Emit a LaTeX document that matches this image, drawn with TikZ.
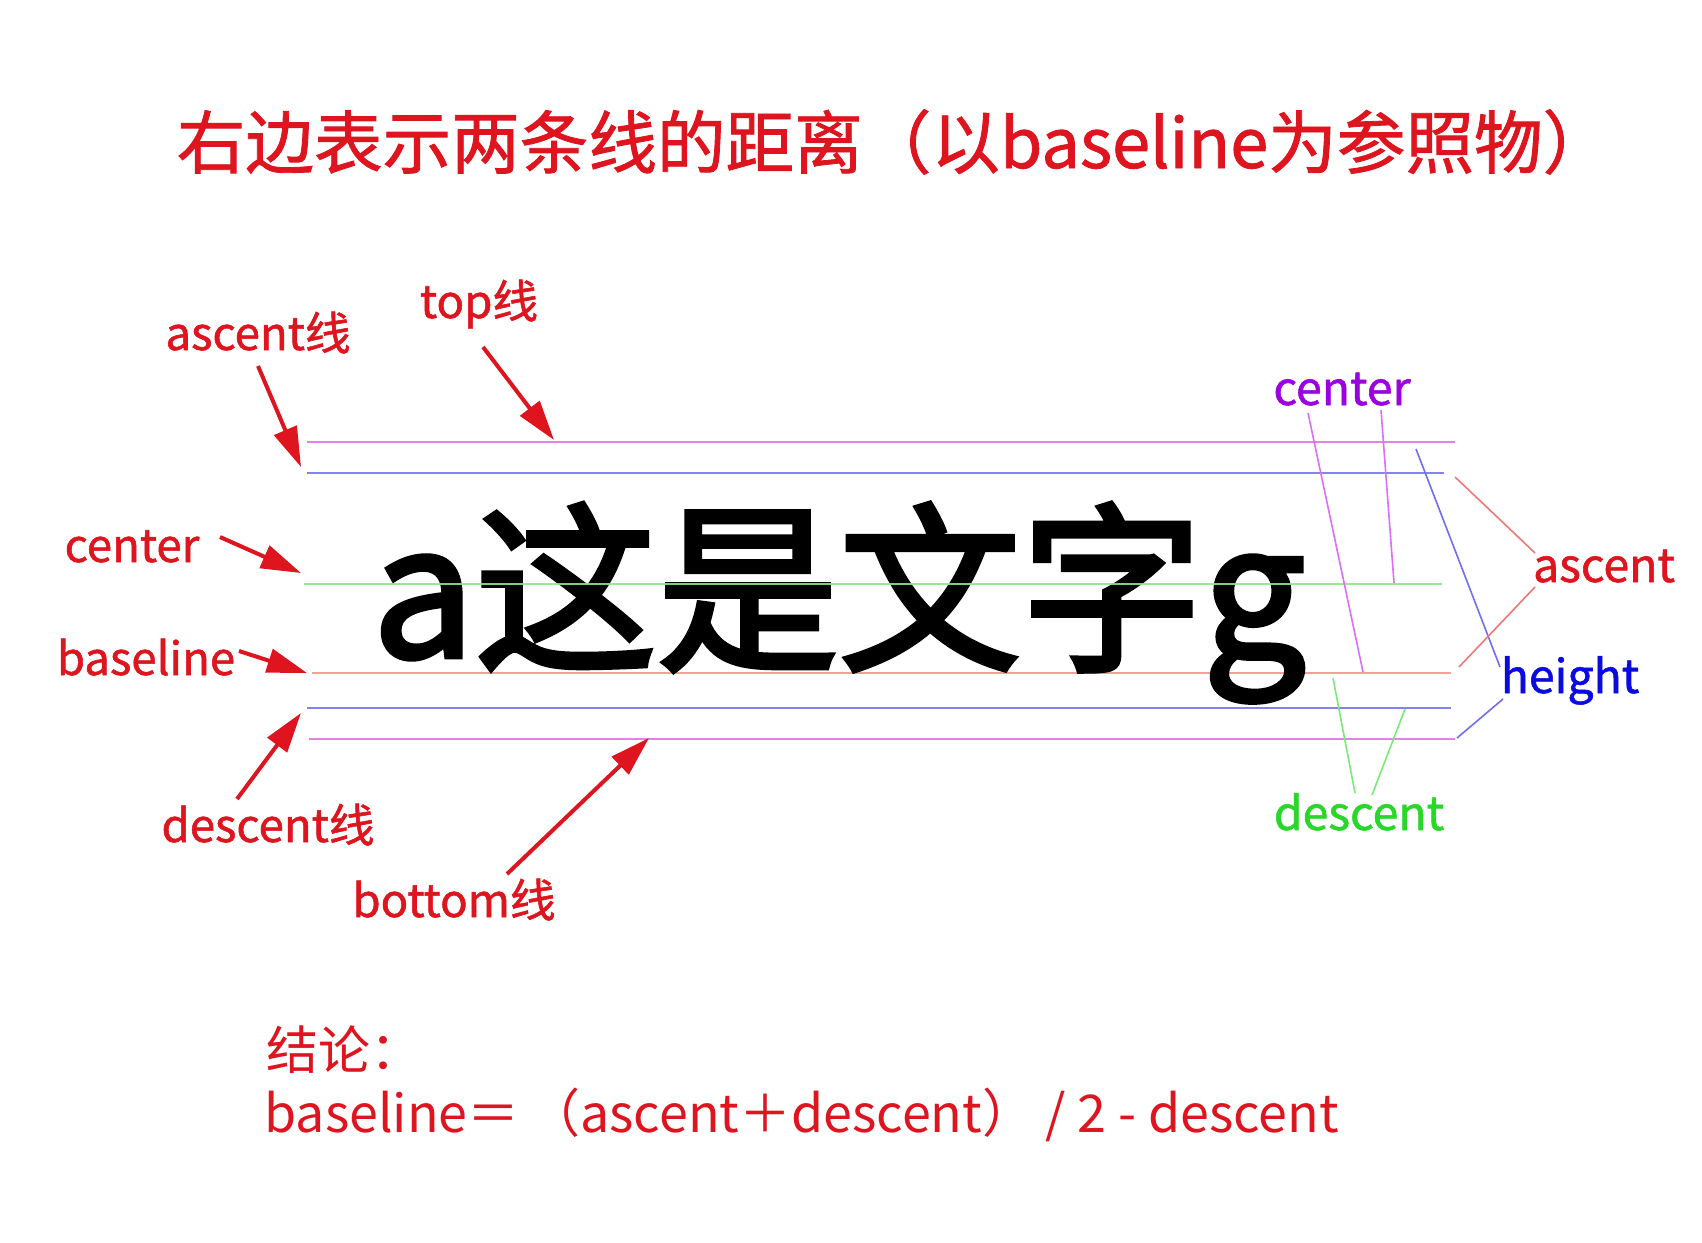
\documentclass[tikz,border=0pt]{standalone}
\usepackage{fontspec}
\setmainfont{Noto Sans CJK SC}
\newfontfamily\cjk{Noto Sans CJK SC}
\newfontfamily\cjkm[FakeBold=1.2]{Noto Sans CJK SC}
\newfontfamily\cjkb[FakeBold=2.6]{Noto Sans CJK SC}
\usetikzlibrary{arrows.meta}
\definecolor{lred}{RGB}{222,20,30}
\definecolor{topc}{RGB}{226,130,226}
\definecolor{ascc}{RGB}{130,130,240}
\definecolor{cenc}{RGB}{140,230,140}
\definecolor{basc}{RGB}{245,160,150}
\definecolor{vio}{RGB}{155,0,225}
\definecolor{vioL}{RGB}{220,110,250}
\definecolor{bluT}{RGB}{10,10,225}
\definecolor{bluL}{RGB}{110,110,245}
\definecolor{redL}{RGB}{240,120,120}
\definecolor{grnT}{RGB}{40,215,40}
\definecolor{grnL}{RGB}{120,235,120}
\tikzset{
  lbl/.style={inner sep=0pt, anchor=base, text=lred, font=\cjkm\fontsize{22.8}{28}\selectfont},
  rlbl/.style={inner sep=0pt, anchor=base, font=\cjkm\fontsize{23.2}{28}\selectfont},
  guide/.style={line width=1pt},
  bracket/.style={line width=0.8pt},
  redarrow/.style={draw=lred, line width=2pt, -{Triangle[length=20pt,width=12pt]}},
}
\begin{document}
\begin{tikzpicture}[x=0.5pt,y=-0.5pt]
\useasboundingbox[fill=white] (0,0) rectangle (1702,1242);

% title
\node[inner sep=0pt, anchor=base, text=lred, font=\cjkm\fontsize{34.3}{40}\selectfont] (title) at (894,168) {右边表示两条线的距离（以baseline为参照物）};

% guide lines
\coordinate (topL) at (307,442); \coordinate (topR) at (1455,442);
\coordinate (ascL) at (307,473); \coordinate (ascR) at (1444,473);
\coordinate (cenL) at (304,584); \coordinate (cenR) at (1442,584);
\coordinate (basL) at (312,673); \coordinate (basR) at (1451,673);
\coordinate (desL) at (307,708); \coordinate (desR) at (1451,708);
\coordinate (botL) at (309,739); \coordinate (botR) at (1455,739);
\draw[guide, topc] (topL) -- (topR);
\draw[guide, ascc] (ascL) -- (ascR);
\draw[guide, basc] (basL) -- (basR);
\draw[guide, ascc] (desL) -- (desR);
\draw[guide, topc] (botL) -- (botR);

% big text
\node[inner sep=0pt, anchor=base west, font=\cjkb\fontsize{91}{100}\selectfont] (big) at (372,657) {a这是文字g};
\draw[guide, cenc, opacity=0.9] (cenL) -- (cenR);

% left labels
\node[lbl] (lasc) at (258,350) {ascent线};
\node[lbl] (ltop) at (479,318) {top线};
\node[lbl] (lcen) at (132,562) {center};
\node[lbl] (lbas) at (146,675) {baseline};
\node[lbl] (ldes) at (268,842) {descent线};
\node[lbl] (lbot) at (454,917) {bottom线};

% left arrows
\coordinate (a1s) at (258,366); \coordinate (a1e) at (301,467);
\coordinate (a2s) at (483,347); \coordinate (a2e) at (554,440);
\coordinate (a3s) at (220,537); \coordinate (a3e) at (301,573);
\coordinate (a4s) at (239,651); \coordinate (a4e) at (307,673);
\coordinate (a5s) at (237,799); \coordinate (a5e) at (301,713);
\coordinate (a6s) at (507,874); \coordinate (a6e) at (649,738);
\draw[redarrow] (a1s) -- (a1e);
\draw[redarrow] (a2s) -- (a2e);
\draw[redarrow] (a3s) -- (a3e);
\draw[redarrow] (a4s) -- (a4e);
\draw[redarrow] (a5s) -- (a5e);
\draw[redarrow] (a6s) -- (a6e);

% right labels
\node[rlbl, text=vio] (rcen) at (1342,405) {center};
\node[rlbl, text=lred] (rasc) at (1604,582) {ascent};
\node[rlbl, text=bluT] (rhei) at (1570,693) {height};
\node[rlbl, text=grnT] (rdes) at (1359,830) {descent};

% right bracket lines
\coordinate (c1a) at (1308,413); \coordinate (c1b) at (1363,672);
\coordinate (c2a) at (1381,410); \coordinate (c2b) at (1394,583);
\draw[bracket, vioL] (c1a) -- (c1b);
\draw[bracket, vioL] (c2a) -- (c2b);
\coordinate (h1a) at (1416,449); \coordinate (h1b) at (1500,667);
\coordinate (h2a) at (1503,699); \coordinate (h2b) at (1457,738);
\draw[bracket, bluL] (h1a) -- (h1b);
\draw[bracket, bluL] (h2a) -- (h2b);
\coordinate (r1a) at (1455,477); \coordinate (r1b) at (1535,553);
\coordinate (r2a) at (1535,587); \coordinate (r2b) at (1459,667);
\draw[bracket, redL] (r1a) -- (r1b);
\draw[bracket, redL] (r2a) -- (r2b);
\coordinate (g1a) at (1333,678); \coordinate (g1b) at (1355,793);
\coordinate (g2a) at (1405,709); \coordinate (g2b) at (1372,795);
\draw[bracket, grnL] (g1a) -- (g1b);
\draw[bracket, grnL] (g2a) -- (g2b);

% conclusion
\node[inner sep=0pt, anchor=base west, text=lred, font=\cjk\fontsize{26}{30}\selectfont] (concl) at (266,1069) {结论：};
\node[inner sep=0pt, anchor=base west, text=lred, font=\cjk\fontsize{26}{30}\selectfont] (formula) at (264,1132) {baseline＝\,（ascent＋descent） / 2 - descent};
\end{tikzpicture}
\end{document}
